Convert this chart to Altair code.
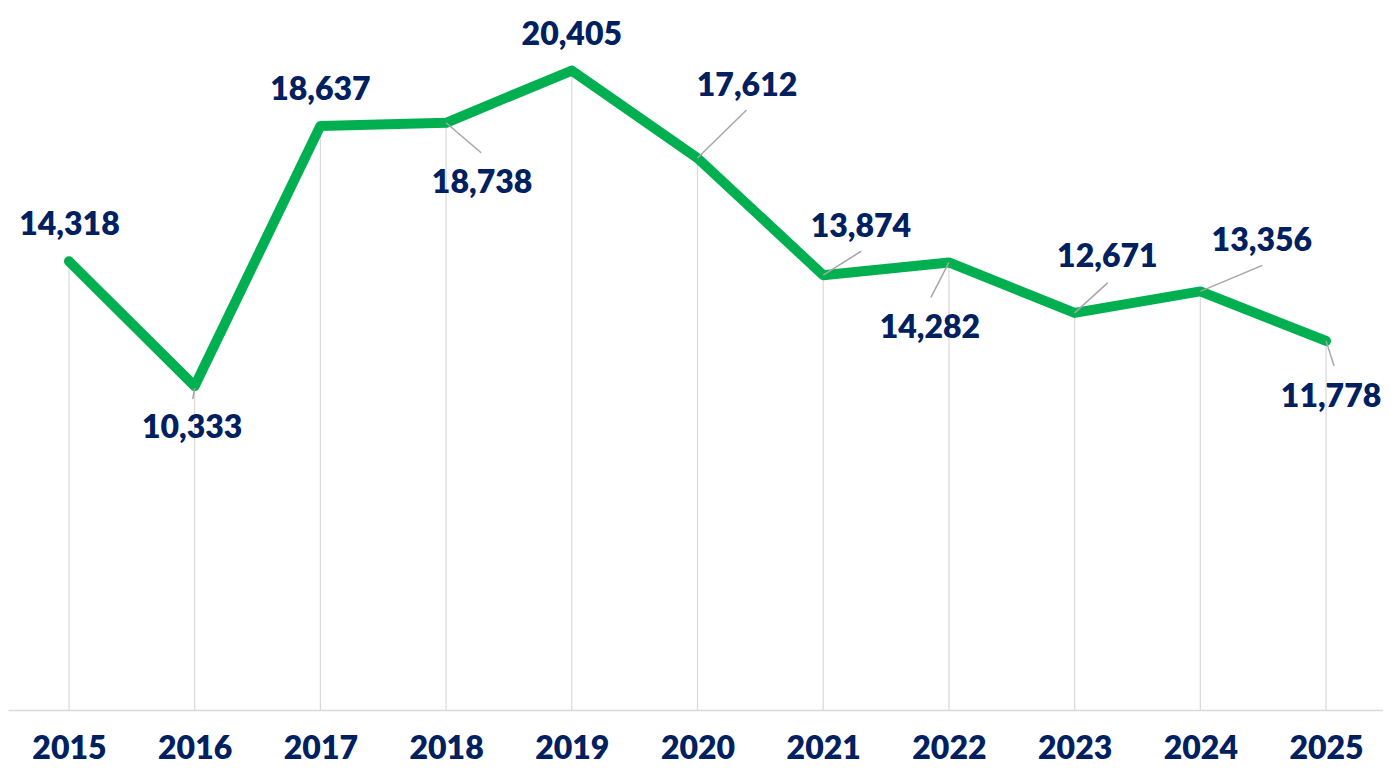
import altair as alt
import pandas as pd

# ---- data ----
years = [2015, 2016, 2017, 2018, 2019, 2020, 2021, 2022, 2023, 2024, 2025]
values = [14318, 10333, 18637, 18738, 20405, 17612, 13874, 14282, 12671, 13356, 11778]

# ---- label placement (pixel offsets of text centre / baseline from its point) ----
label_dx = [0.5, -2.5, 0, 36, 0, 49.5, 37.7, -19, 32.7, 61.5, 5]
label_dy = [-26, 52, -26, 70, -25.5, -62, -38, 75.6, -46, -40.4, 66]

# leader lines (pixel offsets from the point), only for some labels
leader_years = [2016, 2018, 2020, 2021, 2022, 2023, 2024, 2025]
leader_sx = [0, 0, 0, 0, 0, 0, 0, 0]
leader_sy = [2, 0, 0, 0, 0, 0, 0, 0]
leader_ex = [-2, 35, 49, 38, -18, 33, 62, 8]
leader_ey = [13, 30, -48, -24, 35, -30, -26, 25]

# ---- layout ----
W, H = 1375, 702
X_DOMAIN = [2014.515, 2025.453]
Y_DOMAIN = [0, 22400]
XU = W / (X_DOMAIN[1] - X_DOMAIN[0])  # px per year
YU = H / (Y_DOMAIN[1] - Y_DOMAIN[0])  # px per unit

NAVY = "#002060"
GREEN = "#00B050"

df = pd.DataFrame({"year": years, "value": values})
df["lx"] = [y + dx / XU for y, dx in zip(years, label_dx)]
df["ly"] = [v - dy / YU for v, dy in zip(values, label_dy)]

val_of = dict(zip(years, values))
ldf = pd.DataFrame({
    "x0": [y + sx / XU for y, sx in zip(leader_years, leader_sx)],
    "y0": [val_of[y] - sy / YU for y, sy in zip(leader_years, leader_sy)],
    "x1": [y + ex / XU for y, ex in zip(leader_years, leader_ex)],
    "y1": [val_of[y] - ey / YU for y, ey in zip(leader_years, leader_ey)],
})

xscale = alt.Scale(domain=X_DOMAIN, nice=False, zero=False)
yscale = alt.Scale(domain=Y_DOMAIN, nice=False)

x_enc = alt.X(
    "year:Q",
    scale=xscale,
    axis=alt.Axis(
        values=years,
        format="d",
        title=None,
        grid=False,
        ticks=False,
        tickSize=0,
        domainColor="#d9d9d9",
        domainWidth=1.5,
        labelFont="Lato",
        labelFontSize=32,
        labelFontWeight=800,
        labelColor=NAVY,
        labelPadding=48,
        labelBaseline="alphabetic",
        labelFlush=False,
        labelOverlap=False,
    ),
)
y_enc = alt.Y("value:Q", scale=yscale, axis=None)

base = alt.Chart(df)

drops = base.mark_rule(color="#d9d9d9", strokeWidth=1.2).encode(
    x=x_enc, y=y_enc, y2=alt.datum(0)
)

line = base.mark_line(
    color=GREEN, strokeWidth=10, strokeCap="round", strokeJoin="round"
).encode(x=x_enc, y=y_enc)

leaders = alt.Chart(ldf).mark_rule(color="#a6a6a6", strokeWidth=1.5).encode(
    x=alt.X("x0:Q", scale=xscale),
    y=alt.Y("y0:Q", scale=yscale),
    x2="x1:Q",
    y2="y1:Q",
)

labels = base.mark_text(
    font="Lato",
    fontSize=32,
    fontWeight=800,
    color=NAVY,
    align="center",
    baseline="alphabetic",
).encode(
    x=alt.X("lx:Q", scale=xscale),
    y=alt.Y("ly:Q", scale=yscale),
    text=alt.Text("value:Q", format=","),
)

chart = (
    alt.layer(drops, line, leaders, labels)
    .properties(
        width=W,
        height=H,
        autosize=alt.AutoSizeParams(type="none"),
        padding={"left": 0, "top": 0, "right": 0, "bottom": 57},
    )
    .configure_view(stroke=None)
)

chart.save("out.html", embed_options={"renderer": "svg", "actions": False})
